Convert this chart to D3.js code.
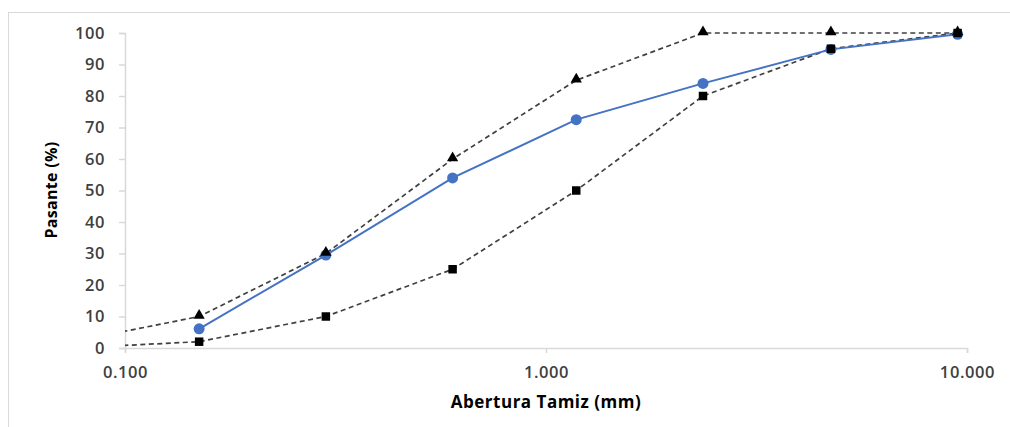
<!DOCTYPE html>
<html><head><meta charset="utf-8">
<script src="https://cdn.jsdelivr.net/npm/d3@7"></script>
<style>body{margin:0;background:#fff}svg{display:block}text{font-family:"Open Sans",sans-serif}</style>
</head><body><svg id="c" width="1010" height="427"></svg>
<script>
const sieves = [0.075, 0.15, 0.3, 0.6, 1.18, 2.36, 4.75, 9.5];
const sample = [null, 6.1, 29.5, 54, 72.5, 84, 94.8, 99.6];
const upperLimit = [2, 10, 30, 60, 85, 100, 100, 100];
const lowerLimit = [0, 2, 10, 25, 50, 80, 95, 100];
const xTicks = [0.1, 1, 10];
const yTicks = [0, 10, 20, 30, 40, 50, 60, 70, 80, 90, 100];

const svg = d3.select("#c");
const m = {l:125, r:967, t:33, b:348};
const x = d3.scaleLog().domain([0.1, 10]).range([m.l, m.r]);
const y = d3.scaleLinear().domain([0, 100]).range([m.b, m.t]);

svg.append("rect").attr("x",8.5).attr("y",12.5).attr("width",1010).attr("height",430)
  .attr("fill","#fff").attr("stroke","#d9d9d9");

svg.append("defs").append("clipPath").attr("id","clip").append("rect")
  .attr("x",m.l).attr("y",m.t-12).attr("width",m.r-m.l+20).attr("height",m.b-m.t+14);

// axes
const ya = svg.append("g").attr("transform",`translate(${m.l},0)`)
  .call(d3.axisLeft(y).tickValues(yTicks).tickSize(6).tickPadding(14).tickFormat(d3.format("d")));
const xa = svg.append("g").attr("transform",`translate(0,${m.b})`)
  .call(d3.axisBottom(x).tickValues(xTicks).tickSize(5).tickPadding(13).tickFormat(d3.format(".3f")));
[ya, xa].forEach(g => {
  g.selectAll("path,line").attr("stroke","#d9d9d9").attr("stroke-width",1.5);
  g.selectAll("text").attr("fill","#404040").attr("font-size",16.5).attr("font-weight",600)
   .attr("letter-spacing",0.6).attr("font-family","'Open Sans',sans-serif");
});

svg.append("text").attr("x",546).attr("y",408).attr("text-anchor","middle")
  .attr("font-size",17).attr("font-weight",700).attr("letter-spacing",0.5).attr("fill","#000").text("Abertura Tamiz (mm)");
svg.append("text").attr("transform","translate(57,190) rotate(-90)").attr("text-anchor","middle")
  .attr("font-size",16).attr("font-weight",700).attr("letter-spacing",0.3).attr("fill","#000").text("Pasante (%)");

const plot = svg.append("g").attr("clip-path","url(#clip)");
function series(vals){ return sieves.map((s,i)=>({s, v: vals[i]})).filter(d=>d.v!==null); }
const line = d3.line().x(d=>x(d.s)).y(d=>y(d.v));

[upperLimit, lowerLimit].forEach(vals => {
  plot.append("path").datum(series(vals)).attr("d",line).attr("fill","none")
    .attr("stroke","#404040").attr("stroke-width",1.7).attr("stroke-dasharray","5,3.5");
});
plot.append("path").datum(series(sample)).attr("d",line).attr("fill","none")
  .attr("stroke","#4472c4").attr("stroke-width",2);

const tri = d3.symbol().type(d3.symbolTriangle).size(55);
const sq = d3.symbol().type(d3.symbolSquare).size(72);
plot.selectAll(".s").data(series(sample)).join("circle")
  .attr("cx",d=>x(d.s)).attr("cy",d=>y(d.v)).attr("r",5.5).attr("fill","#4472c4");
plot.selectAll(".t").data(series(upperLimit)).join("path")
  .attr("d",tri).attr("transform",d=>`translate(${x(d.s)},${y(d.v)-1})`).attr("fill","#000");
plot.selectAll(".q").data(series(lowerLimit)).join("path")
  .attr("d",sq).attr("transform",d=>`translate(${x(d.s)},${y(d.v)})`).attr("fill","#000");
</script></body></html>
